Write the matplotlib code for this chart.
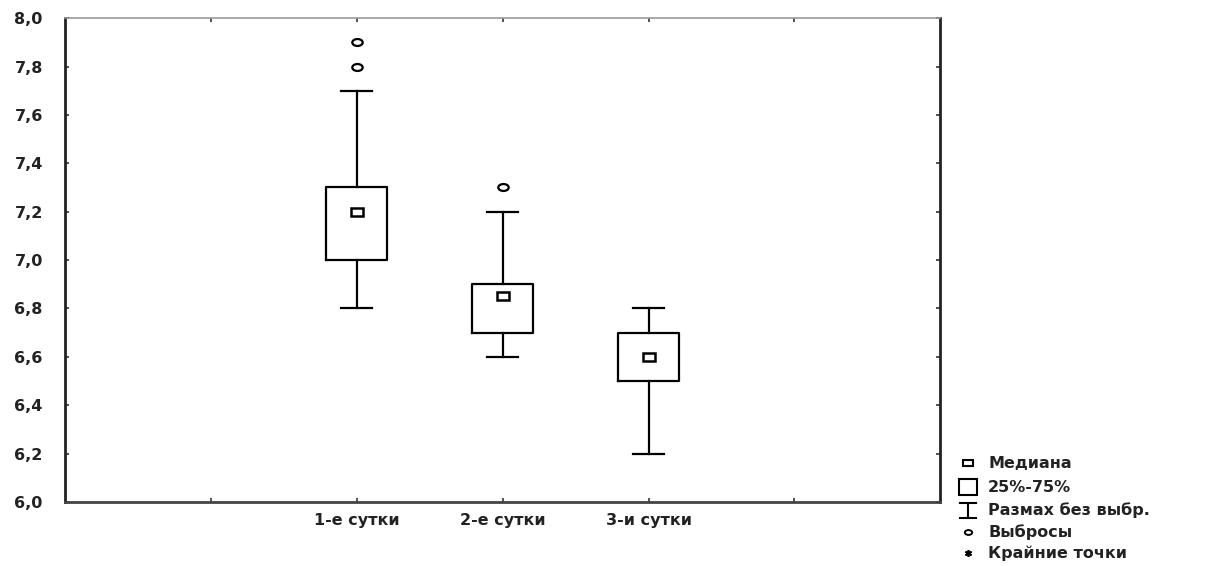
import matplotlib
matplotlib.use('Agg')
import matplotlib.pyplot as plt
from matplotlib.patches import Rectangle
from matplotlib.markers import MarkerStyle
from matplotlib.transforms import Affine2D

plt.rcParams['font.family'] = ['DejaVu Sans']

# data
categories = ['1-е сутки', '2-е сутки', '3-и сутки']
medians = [7.2, 6.85, 6.6]
q1 = [7.0, 6.7, 6.5]
q3 = [7.3, 6.9, 6.7]
whisk_lo = [6.8, 6.6, 6.2]
whisk_hi = [7.7, 7.2, 6.8]
outliers = [[7.8, 7.9], [7.3], []]
y_ticks = [6.0, 6.2, 6.4, 6.6, 6.8, 7.0, 7.2, 7.4, 7.6, 7.8, 8.0]
legend_labels = ['Медиана', '25%-75%', 'Размах без выбр.', 'Выбросы', 'Крайние точки']

# flattened markers like in the original
oval = MarkerStyle('o', transform=Affine2D().scale(1.5, 1.0))
flat_sq = MarkerStyle('s', transform=Affine2D().scale(1.5, 1.0))

fig = plt.figure(figsize=(12.18, 5.66), dpi=100)
ax = fig.add_axes([0.0534, 0.113, 0.7186, 0.855])

positions = [1, 2, 3]
stats = []
for i in range(len(categories)):
    stats.append({'med': medians[i], 'q1': q1[i], 'q3': q3[i],
                  'whislo': whisk_lo[i], 'whishi': whisk_hi[i],
                  'fliers': outliers[i], 'label': categories[i]})

lw = 1.6
ax.bxp(stats, positions=positions, widths=0.42,
       boxprops=dict(color='black', linewidth=lw),
       whiskerprops=dict(color='black', linewidth=lw),
       capprops=dict(color='black', linewidth=lw),
       capwidths=0.21,
       medianprops=dict(linewidth=0),
       flierprops=dict(marker=oval, markersize=5, markerfacecolor='white',
                       markeredgecolor='black', markeredgewidth=1.6))

# median as small square
ax.plot(positions, medians, marker=flat_sq, markersize=5.5, markerfacecolor='white',
        markeredgecolor='black', markeredgewidth=1.8, linestyle='none')

ax.set_xlim(-1, 5)
ax.set_ylim(6.0, 8.0)
ax.set_yticks(y_ticks)
ax.set_yticklabels([f'{v:.1f}'.replace('.', ',') for v in y_ticks])
ax.set_xticks([0, 1, 2, 3, 4])
ax.set_xticklabels([''] + categories + [''])

ax.tick_params(axis='both', direction='in', length=3, width=1.2,
               labelsize=11.5, top=True, right=True, colors='#333333')
ax.tick_params(axis='y', pad=16)
ax.tick_params(axis='x', pad=8)
for lbl in ax.get_yticklabels() + ax.get_xticklabels():
    lbl.set_color('#222222')
    lbl.set_fontweight('bold')

ax.spines['left'].set_linewidth(2)
ax.spines['left'].set_color('#222222')
ax.spines['bottom'].set_linewidth(2)
ax.spines['bottom'].set_color('#444444')
ax.spines['top'].set_linewidth(1.2)
ax.spines['top'].set_color('#999999')
ax.spines['right'].set_linewidth(2)
ax.spines['right'].set_color('#222222')

# legend drawn by hand at the right
lg = fig.add_axes([0, 0, 1, 1])
lg.set_xlim(0, 1218)
lg.set_ylim(566, 0)
lg.axis('off')
rows = [463, 487, 510, 532, 553]
mx = 968
lg.plot(mx, rows[0], marker=flat_sq, markersize=4.5, markerfacecolor='white',
        markeredgecolor='black', markeredgewidth=1.5)
lg.add_patch(Rectangle((mx - 9, rows[1] - 8), 18, 16, fill=False,
                       edgecolor='black', linewidth=1.5))
lg.plot([mx, mx], [rows[2] - 7, rows[2] + 8], color='black', lw=1.5)
lg.plot([mx - 8, mx + 8], [rows[2] - 7, rows[2] - 7], color='black', lw=1.5)
lg.plot([mx - 8, mx + 8], [rows[2] + 8, rows[2] + 8], color='black', lw=1.5)
lg.plot(mx, rows[3], marker=oval, markersize=3.5, markerfacecolor='white',
        markeredgecolor='black', markeredgewidth=1.4)
lg.plot(mx, rows[4], marker=(6, 2, 0), markersize=5, color='black', mew=1.2)
for y, t in zip(rows, legend_labels):
    lg.text(988, y, t, fontsize=11.5, fontweight='bold', va='center',
            ha='left', color='#222222')

fig.savefig('out.png', dpi=100, facecolor='white')
